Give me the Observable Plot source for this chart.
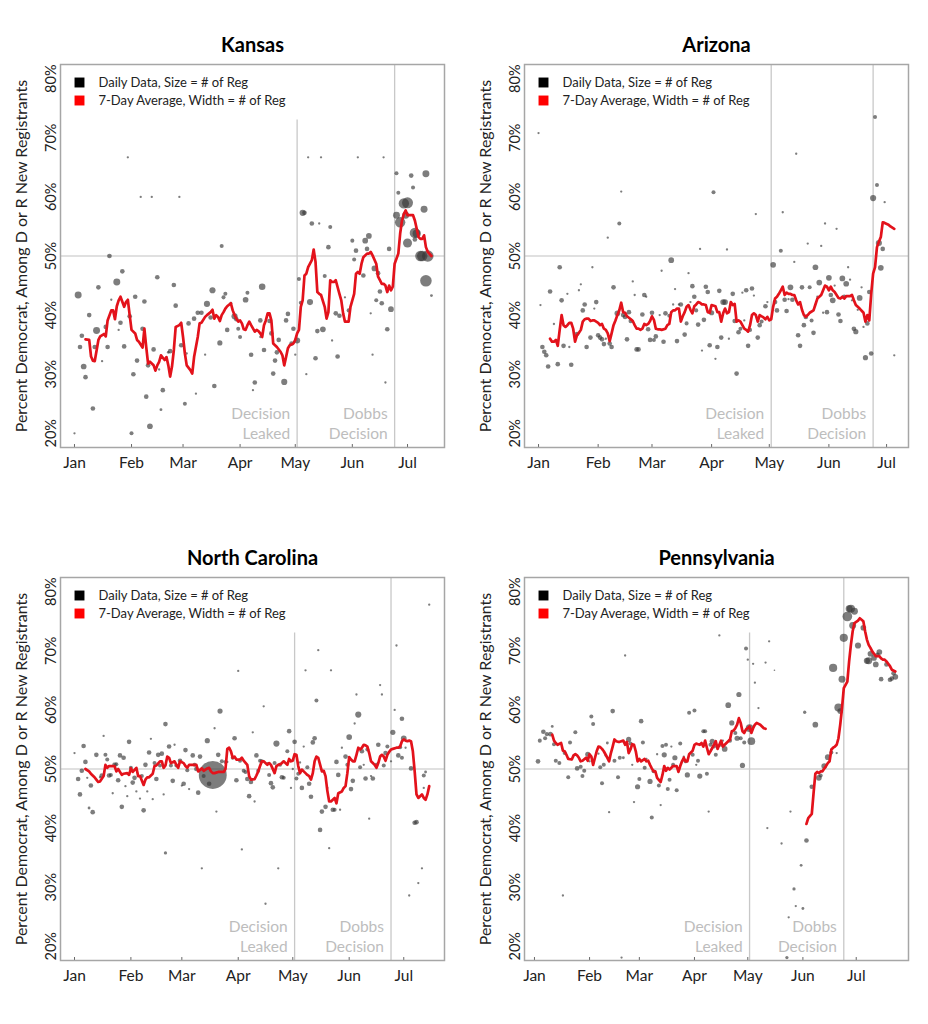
<!DOCTYPE html>
<html><head><meta charset="utf-8">
<script src="https://cdn.jsdelivr.net/npm/d3@7"></script>
<script src="https://cdn.jsdelivr.net/npm/@observablehq/plot@0.6"></script>
<style>
body{margin:0;background:#fff;}
#wrap{position:relative;width:928px;height:1024px;background:#fff;}
.panel{position:absolute;width:464px;height:490px;}
</style></head><body><div id="wrap"></div>
<script>
// Day index: 0 = Jan 1, 2022
const months = ["Jan","Feb","Mar","Apr","May","Jun","Jul"];
const monthStart = [0,31,59,90,120,151,181];
const yTicks = [20,30,40,50,60,70,80];
const leakDay = 121;   // May 2
const dobbsDay = 174;  // Jun 24
const yLabel = "Percent Democrat, Among D or R New Registrants";
const legendDaily = "Daily Data, Size = # of Reg";
const legendAvg = "7-Day Average, Width = # of Reg";
const annotations = [{day:121,label:"Decision\nLeaked"},{day:174,label:"Dobbs\nDecision"}];

// [day, % Democrat, # of registrants (relative)]
const ksDaily = [[0,20.0,2],[2,43.4,18],[3,34.6,8],[4,36.5,8],[5,31.3,12],[6,29.5,8],[8,40.0,8],[10,24.2,8],[11,34.6,8],[12,37.4,18],[13,44.7,8],[15,32.2,2],[17,38.0,8],[18,34.6,8],[19,50.0,8],[20,42.6,2],[23,45.6,18],[24,37.5,2],[25,38.7,8],[26,47.4,8],[27,34.7,8],[29,66.7,2],[30,39.8,8],[32,30.0,8],[31,20.0,6],[33,43.1,8],[34,32.3,8],[36,60.0,2],[37,37.7,8],[38,42.3,8],[39,26.2,8],[40,31.5,8],[41,21.2,12],[42,60.0,2],[43,34.2,8],[45,46.4,8],[46,30.8,2],[47,24.0,3],[48,27.3,8],[51,33.7,3],[52,33.9,8],[54,45.1,8],[55,41.6,8],[57,60.0,2],[58,34.9,8],[60,25.0,6],[61,33.5,2],[62,38.6,8],[65,39.4,8],[66,26.7,2],[67,40.4,8],[69,40.4,8],[71,33.3,2],[72,41.9,14],[74,39.6,8],[75,44.2,14],[76,28.0,8],[79,35.3,10],[80,51.7,6],[81,43.0,6],[82,43.6,6],[83,37.5,8],[85,42.0,3],[87,39.8,14],[88,39.3,8],[89,37.7,6],[90,36.3,6],[93,42.6,12],[94,43.8,6],[96,33.3,8],[97,27.3,2],[98,28.6,8],[101,36.3,2],[101,39.1,8],[102,44.8,16],[103,34.1,8],[106,39.0,8],[107,36.9,8],[108,30.1,8],[109,32.3,8],[110,33.7,8],[111,35.8,8],[114,28.7,14],[115,39.1,8],[116,40.2,8],[118,35.2,8],[119,37.7,8],[120,33.3,2],[121,35.7,14],[122,46.1,6],[123,42.1,6],[124,57.3,14],[125,57.3,8],[126,30.0,2],[127,66.7,2],[128,42.2,14],[129,55.5,8],[131,32.7,8],[132,37.3,8],[133,55.5,2],[134,66.7,2],[135,37.6,12],[136,46.6,6],[138,51.5,8],[139,54.9,6],[140,35.7,2],[142,40.3,8],[143,33.0,8],[144,39.9,8],[147,43.0,2],[149,40.8,6],[151,52.6,6],[152,49.4,6],[153,50.9,8],[154,66.7,2],[157,46.7,8],[158,52.6,12],[159,51.2,8],[160,53.4,12],[161,40.3,2],[162,33.3,2],[163,47.9,12],[164,42.5,6],[165,47.1,8],[166,44.0,8],[167,42.0,8],[168,66.7,2],[169,28.6,2],[170,37.6,8],[171,51.2,8],[172,41.0,12],[175,56.9,18],[175,64.0,6],[176,60.7,6],[177,55.7,40],[179,58.9,40],[180,56.9,18],[181,59.0,45],[181,52.2,30],[183,63.6,8],[184,61.6,6],[185,52.8,8],[185,53.9,40],[186,53.8,25],[188,50.0,40],[189,50.0,40],[190,57.9,18],[191,63.9,18],[191,45.8,50],[192,50.0,50],[194,43.3,3]];
const ksAvg = [[6,35.9],[8,35.8],[9,33],[10,32.3],[11,32.2],[13,35.8],[14,36.4],[16,36.8],[17,36.4],[18,39.1],[20,40.8],[21,40.8],[22,39.3],[23,41.5],[24,42.5],[25,43.1],[27,41.4],[28,42.2],[29,42.6],[30,40],[31,37.5],[33,36.9],[34,35.8],[35,35.5],[37,34.5],[38,37.7],[39,34.6],[40,31.8],[41,32.1],[43,31.5],[44,30.6],[45,31.5],[46,32.1],[47,33.2],[49,32.4],[50,32.9],[51,31.5],[52,29.6],[53,31.3],[54,34.1],[55,38],[57,38.3],[58,38.7],[59,36.3],[60,33.5],[61,31.5],[63,30.7],[64,30.1],[65,32.9],[67,36.3],[68,38.6],[69,38.7],[71,39.7],[72,40],[74,40.5],[75,40.9],[76,39.4],[77,40],[78,39.7],[79,39],[80,40],[81,40.5],[82,41.1],[83,41.5],[85,42],[86,40.8],[87,40],[88,39.4],[89,38.9],[90,39.1],[91,38.6],[92,37.6],[93,37.5],[94,38.3],[95,38.9],[96,38.3],[98,37.2],[99,37.5],[100,37.3],[101,36.9],[102,36.3],[103,38.3],[104,39.1],[105,40.3],[106,40.3],[107,39.1],[108,35.2],[109,34.9],[110,34.6],[112,33.8],[113,33.2],[114,31.5],[115,32.9],[116,34.4],[117,34.9],[119,35.2],[120,35.8],[121,36.9],[122,37.5],[123,41.4],[124,42.5],[125,46.7],[126,47],[127,48.1],[129,49.3],[130,51.1],[131,49],[132,43.9],[133,43.6],[134,43.4],[136,41.4],[137,39.4],[138,40.5],[139,45.9],[140,45.6],[141,45.6],[142,45.9],[144,43.6],[145,42.5],[146,40.3],[147,38.9],[148,38.9],[149,38.9],[150,41.4],[152,43.6],[153,47],[154,47.3],[155,47],[156,48.7],[157,49.8],[159,50.4],[160,50.4],[161,50.7],[162,50.1],[164,48.7],[165,46.5],[166,45.9],[167,45.3],[168,45.3],[169,45],[170,43.9],[171,45],[172,44.2],[173,44.8],[174,48.7],[176,50.4],[177,53.8],[178,56],[179,57.1],[180,57.7],[181,56.9],[182,56.9],[184,56.9],[185,56],[186,54.6],[187,53.2],[188,52.9],[189,52.9],[190,53.5],[191,51.5],[192,50.7],[194,50]];

const azDaily = [[0,70.8,2],[1,41.7,2],[2,34.6,8],[3,33.8,8],[4,33.2,8],[5,31.3,8],[6,44.0,8],[8,38.5,2],[10,31.7,8],[11,48.1,8],[12,42.5,8],[13,34.8,8],[15,43.6,2],[16,34.6,2],[17,31.6,8],[18,37.5,2],[20,36.8,8],[21,44.2,2],[22,45.2,2],[23,40.8,8],[24,41.8,8],[25,34.6,8],[27,36.2,8],[28,48.1,2],[29,41.1,2],[30,42.2,8],[31,36.6,8],[32,36.2,8],[33,35.9,8],[34,35.1,8],[35,36.0,2],[36,53.1,2],[37,35.2,8],[38,34.6,8],[39,44.7,8],[41,40.3,12],[42,55.5,6],[43,60.9,2],[44,40.0,8],[45,39.7,8],[46,35.9,8],[47,40.5,8],[48,39.0,8],[49,45.7,2],[50,43.4,2],[51,34.2,8],[52,34.2,8],[54,40.1,8],[55,43.4,8],[56,43.1,2],[57,37.6,8],[58,35.8,8],[59,40.4,8],[60,35.8,6],[61,36.4,8],[63,40.0,2],[64,47.5,2],[65,35.5,8],[66,40.3,8],[68,39.9,6],[69,49.3,12],[70,41.8,2],[71,44.4,2],[72,35.6,8],[73,41.8,2],[74,41.8,8],[76,36.7,8],[77,38.6,6],[78,47.1,2],[79,42.2,2],[80,44.9,8],[81,43.1,8],[82,40.8,6],[83,38.4,8],[84,51.2,2],[85,34.0,2],[86,39.2,8],[87,44.8,8],[88,43.9,8],[89,34.9,8],[90,40.4,10],[91,60.8,6],[92,32.6,2],[93,34.6,8],[94,44.1,8],[95,36.2,8],[96,42.2,12],[97,42.2,12],[98,51.1,2],[99,36.0,2],[101,43.6,8],[102,39.0,8],[103,30.1,8],[104,37.1,8],[105,37.7,6],[106,43.8,2],[107,39.1,2],[108,44.2,8],[109,34.8,8],[110,37.5,6],[111,44.5,8],[112,43.3,2],[113,57.1,2],[114,36.2,8],[115,38.3,8],[116,38.9,6],[118,41.5,8],[119,42.2,2],[122,48.5,12],[123,42.2,8],[124,40.8,8],[126,50.9,6],[127,57.4,2],[128,42.6,8],[129,40.7,8],[130,42.7,2],[131,44.7,12],[132,42.6,8],[133,49.0,2],[134,67.3,2],[135,36.6,8],[136,34.8,8],[137,44.7,8],[138,38.3,8],[139,39.7,8],[140,52.1,2],[141,44.7,6],[142,39.1,6],[143,37.0,8],[144,48.1,12],[145,43.1,2],[146,45.5,12],[147,51.7,2],[148,40.4,2],[149,55.5,2],[150,40.5,8],[151,46.3,12],[152,43.4,8],[153,42.5,12],[154,45.0,2],[155,54.6,2],[156,40.1,8],[157,39.0,8],[158,46.2,12],[159,43.1,8],[160,45.3,12],[161,48.1,2],[162,46.0,2],[163,42.5,2],[164,37.7,8],[165,37.2,10],[166,40.9,2],[167,42.9,12],[168,44.7,2],[169,38.0,2],[170,32.8,10],[171,38.6,8],[172,43.9,8],[173,33.5,8],[174,59.8,14],[175,73.5,6],[176,62.0,6],[177,52.2,14],[178,48.0,12],[179,51.2,8],[180,59.1,2],[185,33.2,2]];
const azAvg = [[6,36],[7,35.5],[8,35.5],[9,35.8],[10,34.8],[11,37.5],[12,40],[13,38.3],[14,38],[15,38.3],[16,38.7],[17,38.7],[18,37.7],[19,35.5],[20,36.6],[21,37],[22,37.5],[23,38.9],[24,39.3],[25,39.4],[26,39.4],[27,39],[28,39.1],[29,39.1],[31,38.7],[32,38.3],[33,38.5],[34,37.7],[35,37.5],[36,36.9],[37,35.6],[38,36.9],[39,38.3],[40,39.1],[41,40],[42,40.8],[43,42.1],[44,40.5],[45,40.4],[46,39.8],[48,39.3],[49,39],[50,38.3],[51,37.7],[52,37.7],[53,37.5],[54,37.7],[55,38.5],[56,38.3],[57,38.5],[58,39],[59,39.8],[60,39.2],[61,37.7],[62,37.6],[63,37.6],[64,37.5],[66,37.7],[67,38.3],[68,38.5],[69,40.5],[70,40.8],[71,40.8],[72,41.1],[73,41.1],[74,38.9],[75,39.8],[76,40.5],[77,41.4],[78,41.7],[79,40.9],[80,40.3],[81,41.5],[82,41.8],[83,42.2],[84,42.1],[85,41.8],[86,41.8],[87,41.7],[88,40.5],[89,40.4],[90,41.7],[92,41.5],[93,40.5],[94,40.5],[95,38.9],[96,40.3],[97,41.1],[98,40.3],[99,40.5],[100,42.2],[101,41.7],[102,41.9],[103,38.9],[104,39.1],[105,38.9],[106,38.3],[107,37.7],[108,37.5],[109,37.2],[110,38.3],[111,40],[112,40.3],[113,40],[114,38.9],[115,40],[117,39.6],[118,39.3],[119,39.7],[120,39.1],[121,39.3],[122,41.4],[123,42.8],[124,43.1],[125,43.6],[126,44.2],[127,44.8],[128,43.4],[129,43.8],[130,43.6],[131,43.6],[132,43.4],[133,43.4],[134,42.5],[135,41.8],[136,42.2],[137,40.9],[138,40],[139,39.7],[140,40],[141,40.4],[143,40.8],[144,41.8],[145,42.8],[146,43.1],[147,43.4],[148,44.2],[149,45],[150,44.8],[151,44.2],[152,44.8],[153,44.2],[154,43.9],[155,43.4],[156,42.9],[157,42.8],[158,43.1],[159,42.8],[160,43.2],[161,43.2],[162,43.2],[163,43.4],[164,42.5],[165,41.7],[166,41.4],[167,41.1],[169,40.4],[170,38.9],[171,40],[172,39.1],[173,43.6],[174,47],[175,48.1],[176,51.5],[177,52.4],[178,53.2],[179,55.7],[180,55.6],[182,55.3],[183,55],[185,54.6]];

const ncDaily = [[0,52.7,2],[2,48.3,8],[3,45.7,8],[4,49.7,8],[5,53.9,8],[6,51.2,8],[7,48.5,2],[8,43.4,3],[9,47.2,8],[10,42.7,8],[12,52.4,8],[14,48.6,2],[15,48.9,8],[16,55.6,2],[17,52.4,6],[18,51.6,6],[19,48.9,8],[20,49.0,6],[21,45.9,2],[22,50.7,8],[23,50.8,6],[24,48.1,8],[25,52.3,8],[26,43.6,8],[27,51.9,8],[28,47.1,2],[29,45.4,2],[30,54.6,8],[31,50.2,6],[32,47.7,8],[33,48.5,8],[34,46.2,2],[36,45.0,2],[37,48.8,6],[38,43.0,8],[39,50.7,8],[40,46.2,2],[41,52.8,8],[42,55.1,2],[43,44.9,2],[44,51.0,6],[45,48.3,8],[46,52.4,8],[47,50.6,6],[48,52.6,8],[49,45.7,2],[50,57.6,8],[50,35.8,4],[52,53.8,8],[53,50.6,6],[54,48.0,8],[55,54.1,2],[56,50.6,6],[58,51.4,8],[59,47.2,2],[60,47.5,8],[61,53.2,8],[62,49.8,6],[63,46.6,2],[65,52.3,8],[66,50.7,6],[67,50.0,8],[68,46.0,8],[69,52.1,8],[70,33.2,2],[71,48.8,6],[73,54.8,10],[74,47.5,8],[76,49.0,290],[77,56.9,2],[78,42.8,2],[79,52.4,8],[80,59.8,10],[81,51.3,6],[83,51.2,6],[84,51.2,2],[87,51.9,6],[88,55.2,8],[89,48.1,8],[90,66.6,2],[91,51.4,6],[92,36.4,2],[93,49.7,6],[94,49.5,6],[95,48.3,8],[96,45.4,8],[97,47.8,8],[98,56.2,2],[99,44.5,2],[100,52.3,8],[101,49.7,6],[102,51.4,6],[103,51.3,6],[104,60.6,2],[105,27.2,2],[106,51.0,2],[107,49.0,6],[108,47.6,8],[109,46.9,8],[110,51.0,6],[111,54.3,14],[112,33.2,2],[113,50.7,6],[114,48.6,8],[115,48.5,6],[117,53.0,6],[118,56.4,8],[119,46.8,2],[120,50.0,2],[121,54.6,8],[122,48.4,6],[123,49.2,6],[124,51.1,2],[125,46.8,8],[126,53.8,2],[127,66.7,2],[128,50.3,6],[129,47.5,8],[130,45.3,8],[131,54.5,8],[132,55.2,8],[133,61.6,6],[134,70.1,2],[135,39.7,8],[136,42.8,8],[137,49.6,2],[138,43.6,8],[139,46.8,2],[140,36.6,2],[141,66.7,2],[142,43.1,8],[143,43.1,6],[144,51.2,8],[145,49.0,8],[146,43.1,2],[147,53.6,2],[149,52.1,8],[150,50.7,6],[151,55.4,12],[152,46.6,8],[153,48.0,8],[154,57.7,2],[155,62.6,2],[156,59.2,14],[157,50.3,6],[158,53.0,8],[159,50.7,2],[160,48.4,8],[161,53.3,6],[162,41.6,2],[163,48.8,2],[164,48.4,8],[166,50.7,6],[167,54.1,8],[168,64.2,2],[169,62.6,2],[170,50.6,6],[171,52.7,8],[172,53.8,6],[174,51.3,2],[175,56.2,10],[176,60.0,2],[177,70.9,2],[178,52.3,8],[179,53.7,6],[180,51.9,6],[180,58.5,8],[181,55.2,12],[182,53.6,2],[184,28.6,2],[185,50.1,8],[187,40.9,8],[188,41.0,8],[189,30.7,2],[191,33.2,2],[192,48.9,6],[192,46.8,2],[193,49.5,3],[195,77.8,2]];
const ncAvg = [[6,50],[8,49.6],[9,49.2],[11,48.6],[12,48.2],[13,47.8],[14,47.9],[16,48.8],[17,50.7],[18,50.2],[19,50.5],[21,50.5],[22,50.5],[23,49.6],[24,50],[26,49],[27,49.2],[29,49.3],[30,49],[31,50.1],[32,49.5],[34,50.2],[35,48.8],[36,48.8],[38,47.3],[39,48.2],[40,48.6],[41,48.6],[43,49.2],[44,50.5],[45,50.6],[47,51.3],[48,51.3],[49,50.2],[50,50.6],[51,52.1],[52,51.9],[53,51],[55,51.3],[56,50.7],[57,50.2],[58,51.3],[60,51],[61,50.5],[62,50.2],[63,50.7],[65,50.7],[66,50.7],[67,50.7],[68,49.6],[70,50.1],[71,49.7],[73,50.1],[74,50.2],[75,49.6],[76,49.3],[77,49.3],[79,49.5],[82,49.5],[83,50],[84,53.4],[85,53.6],[86,53],[87,51.9],[88,52.1],[89,51.6],[91,51.6],[92,51.9],[93,51.4],[95,50.7],[96,48.8],[97,48.2],[99,48.3],[100,48.9],[101,49.6],[102,50.5],[103,51.3],[104,51.3],[106,50.7],[107,51],[108,50.7],[110,49.3],[111,50.5],[112,50.7],[113,50.8],[114,51],[115,51.3],[117,50.7],[118,51.7],[119,51.3],[120,51.4],[121,52.5],[122,52.4],[123,50.5],[124,49.3],[125,49.9],[126,49.6],[127,49.3],[128,49],[129,48.8],[130,48.2],[131,49.3],[132,51.3],[133,52.1],[134,51.9],[136,49.6],[137,49.7],[138,48.8],[139,46.3],[140,44.5],[141,44.5],[142,44.8],[143,45.1],[144,44.2],[145,45.9],[147,46.2],[148,46.8],[149,47.1],[150,49.3],[151,52],[152,51.6],[153,51.3],[154,51.3],[155,52.4],[156,53.6],[157,53.3],[158,53.6],[159,54.1],[160,54],[161,53.8],[162,52.7],[163,51.3],[164,51],[165,50.7],[166,50.2],[167,51],[168,52.1],[169,52.4],[170,52.1],[171,51.4],[172,52.4],[173,52.9],[174,53.3],[175,53.4],[177,53.6],[178,53.6],[179,53.8],[180,54.7],[181,55],[182,54.8],[183,54.7],[184,54.8],[185,54.7],[186,53],[187,49.6],[188,45.7],[189,45.1],[190,45.4],[191,45.7],[192,45.1],[193,44.8],[194,45.7],[195,47.1]];

const paDaily = [[2,51.3,8],[3,54.8,6],[5,56.3,8],[6,55.2,6],[7,55.9,6],[9,55.9,8],[10,57.2,3],[11,54.2,6],[12,51.4,6],[14,51.0,6],[16,28.6,2],[17,52.7,6],[19,48.6,6],[20,54.5,6],[23,56.2,6],[24,50.1,8],[26,50.4,6],[27,48.8,6],[28,49.7,6],[30,52.5,10],[31,51.3,2],[32,58.9,6],[33,57.6,6],[36,52.6,2],[37,50.3,6],[38,47.6,6],[39,50.7,6],[40,52.3,2],[41,54.4,3],[42,42.7,2],[44,59.8,8],[45,51.4,6],[47,48.6,6],[48,51.9,6],[49,18.1,2],[50,51.9,3],[51,69.2,2],[53,55.0,10],[54,54.3,6],[55,50.7,2],[56,44.4,2],[58,47.0,10],[59,48.3,6],[60,58.1,8],[61,54.5,6],[62,50.2,6],[63,51.7,2],[65,47.9,10],[66,41.8,6],[67,49.6,6],[69,52.5,2],[70,47.2,6],[71,43.9,2],[72,53.9,6],[73,52.4,10],[74,54.1,6],[75,46.6,6],[76,48.2,6],[77,53.8,2],[78,50.7,6],[79,51.9,10],[80,46.4,6],[82,54.3,6],[84,52.1,2],[85,51.3,6],[86,49.0,10],[87,59.5,6],[89,52.4,6],[90,59.9,6],[91,50.7,2],[92,51.4,6],[93,48.8,10],[95,56.4,6],[96,56.4,6],[97,49.2,6],[98,42.8,2],[99,54.1,6],[100,54.7,10],[101,53.8,6],[102,52.4,6],[104,72.6,2],[105,54.1,6],[106,54.8,2],[107,53.4,12],[109,60.8,12],[110,54.8,6],[111,57.8,10],[113,56.1,6],[114,55.2,10],[115,62.6,10],[116,55.2,6],[117,50.6,10],[118,54.5,6],[119,70.4,6],[120,68.5,2],[121,56.9,22],[122,54.7,22],[123,67.8,2],[124,64.6,2],[126,60.3,2],[130,68.0,2],[131,40.0,2],[132,71.6,2],[135,66.7,1],[139,37.4,2],[142,18.1,4],[143,24.9,2],[144,42.8,2],[146,29.7,4],[147,26.8,2],[150,33.7,3],[151,26.4,3],[152,59.6,4],[153,37.9,8],[156,47.0,8],[158,57.5,12],[160,48.5,12],[161,48.9,6],[163,50.5,12],[165,52.0,12],[167,52.8,6],[168,67.1,25],[170,52.7,2],[171,60.4,25],[172,59.8,12],[173,65.2,18],[174,72.2,25],[176,75.8,35],[177,77.1,18],[178,77.1,25],[179,74.3,18],[180,76.7,18],[182,70.9,14],[185,73.9,12],[187,68.3,14],[188,68.3,18],[189,69.5,12],[191,68.8,12],[192,67.7,12],[193,69.3,8],[194,69.8,12],[195,65.2,8],[198,67.7,8],[200,65.1,8],[201,65.3,8],[202,66.2,8],[203,65.6,12]];
const paAvgA = [[10,55.8],[11,54.8],[12,54.4],[13,54.1],[15,54.4],[16,53.1],[17,53],[18,52.4],[19,51.7],[21,51.6],[22,52.3],[23,52.5],[24,52.3],[25,51.9],[26,51.3],[27,51.4],[29,51.9],[30,51.4],[31,52.5],[32,52.1],[33,50.7],[35,53],[36,53.8],[37,53.7],[38,53.4],[39,53],[41,51.9],[42,51.3],[43,52.7],[44,53.8],[45,55],[46,54.7],[47,54.6],[48,54.6],[50,54.8],[51,54.1],[52,54.6],[53,52.7],[54,53.3],[55,54.2],[56,54.1],[57,53],[58,51.3],[59,51.7],[60,51.3],[62,51.7],[63,51.3],[64,51.4],[65,50.7],[66,50.1],[67,49.6],[68,49.6],[69,48.5],[71,47.8],[72,49],[73,50.5],[74,49.7],[75,50.2],[76,49.9],[77,50.2],[78,50.5],[80,50.5],[81,49.5],[82,50.5],[83,51.3],[84,51.9],[85,51.3],[86,51.3],[87,52.5],[89,53.1],[90,54.1],[91,54.3],[92,54.2],[93,54.1],[94,54.4],[95,53.8],[96,54.8],[97,53.6],[98,52.5],[99,53],[101,54.1],[102,54.7],[103,53.4],[104,54.1],[105,54.8],[106,53.8],[107,54.1],[108,54.4],[110,55],[111,56.4],[112,56.5],[113,56.9],[114,57.5],[115,58.6],[116,57.8],[117,56.4],[118,56.1],[119,56.7],[120,56.9],[121,57.2],[122,56.1],[123,56.9],[124,57.5],[125,57.8],[127,57.5],[128,57.2],[129,56.9],[130,56.8]];
const paAvgB = [[153,40.7],[154,41.7],[156,42.4],[157,45.9],[158,49.2],[159,49.5],[160,49.3],[161,49.6],[162,49.6],[164,50.5],[165,51],[166,51.3],[167,53.3],[168,53.6],[169,53.8],[170,54.1],[171,55.2],[172,57.5],[173,60.3],[174,63.7],[176,64.8],[177,68.2],[178,71],[179,73.3],[180,74.7],[182,75.1],[183,75.5],[185,75],[186,73.3],[187,71.9],[188,71],[189,70.5],[190,69.9],[191,69.5],[192,69.1],[194,69.1],[195,68.7],[196,68.5],[197,68.5],[198,68.2],[199,67.8],[200,67.4],[201,66.8],[203,66.5]];

const yDomain = [17.6, 82.4];

function panel({title, daily, avgs, xDomain, leakTop, left, top}) {
  const font = "Lato, 'Open Sans', sans-serif";
  const p = Plot.plot({
    width: 464, height: 490,
    marginLeft: 60, marginRight: 20, marginTop: 64, marginBottom: 43,
    x: {domain: xDomain},
    y: {domain: yDomain},
    r: {type: "sqrt", domain: [0, 50], range: [0, 5.8]},
    style: {fontFamily: font, fontSize: "15px", color: "#222", background: "#fff", overflow: "visible"},
    marks: [
      Plot.ruleY([50], {stroke: "#d6d6d6", strokeWidth: 1.5}),
      Plot.ruleX([leakDay], {y1: yDomain[0], y2: leakTop, stroke: "#c8c8c8", strokeWidth: 1.3}),
      Plot.ruleX([dobbsDay], {stroke: "#c8c8c8", strokeWidth: 1.3}),
      Plot.text(annotations, {x: "day", text: "label", frameAnchor: "bottom", textAnchor: "end",
        lineAnchor: "middle", lineHeight: 1.33, dx: -7, dy: -25, fill: "#bdbdbd", fontSize: 15.5}),
      Plot.dot(daily, {x: d => d[0], y: d => d[1], r: d => d[2], fill: "#383838", fillOpacity: 0.65}),
      ...avgs.map(a => Plot.line(a, {x: d => d[0], y: d => d[1], stroke: "#e3121b", strokeWidth: 2.7})),
      Plot.ruleX(monthStart, {y1: yDomain[0], y2: yDomain[0] + 0.5, stroke: "#666"}),
      Plot.frame({stroke: "#a6a6a6", strokeWidth: 1.5}),
      Plot.dot([legendDaily], {frameAnchor: "top-left", dx: 19, dy: 18, symbol: "square", r: 5.6, fill: "#000"}),
      Plot.dot([legendAvg], {frameAnchor: "top-left", dx: 19, dy: 36, symbol: "square", r: 5.6, fill: "#f00"}),
      Plot.text([legendDaily], {frameAnchor: "top-left", dx: 38, dy: 18, textAnchor: "start", lineAnchor: "middle", fontSize: 13, fill: "#222"}),
      Plot.text([legendAvg], {frameAnchor: "top-left", dx: 38, dy: 36, textAnchor: "start", lineAnchor: "middle", fontSize: 13, fill: "#222"}),
      Plot.axisX({ticks: monthStart, tickFormat: d => months[monthStart.indexOf(d)], tickSize: 0, tickPadding: 9, fontSize: 15.5, label: null}),
      Plot.axisY({ticks: yTicks, tickFormat: d => d + "%", tickRotate: -90, tickSize: 0, tickPadding: 5,
        textAnchor: "middle", lineAnchor: "bottom", fontSize: 14.5, label: null}),
      Plot.text([yLabel], {frameAnchor: "left", rotate: -90, dx: -39, fontSize: 16, textAnchor: "middle", lineAnchor: "middle", fill: "#222"}),
      Plot.text([title], {frameAnchor: "top", dy: -19, fontSize: 20, fontWeight: "bold", lineAnchor: "middle", fill: "#000"})
    ]
  });
  const div = document.createElement("div");
  div.className = "panel";
  div.style.left = left + "px";
  div.style.top = top + "px";
  div.appendChild(p);
  document.getElementById("wrap").appendChild(div);
}

panel({title: "Kansas", daily: ksDaily, avgs: [ksAvg], xDomain: [-7.6, 201.1], leakTop: 73, left: 0, top: 0});
panel({title: "Arizona", daily: azDaily, avgs: [azAvg], xDomain: [-7.3, 192.4], leakTop: yDomain[1], left: 464, top: 0});
panel({title: "North Carolina", daily: ncDaily, avgs: [ncAvg], xDomain: [-7.7, 203.4], leakTop: 73, left: 0, top: 513});
panel({title: "Pennsylvania", daily: paDaily, avgs: [paAvgA, paAvgB], xDomain: [-5.6, 210.4], leakTop: 73, left: 464, top: 513});
</script></body></html>
